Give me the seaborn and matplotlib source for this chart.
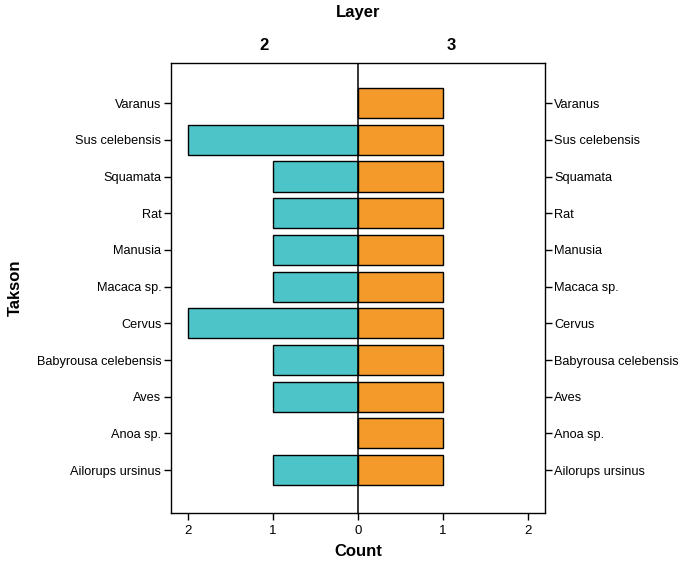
import pandas as pd
import matplotlib
matplotlib.use("Agg")
import matplotlib.pyplot as plt
import seaborn as sns

takson = ["Varanus", "Sus celebensis", "Squamata", "Rat", "Manusia", "Macaca sp.",
          "Cervus", "Babyrousa celebensis", "Aves", "Anoa sp.", "Ailorups ursinus"]
layer2_counts = [0, 2, 1, 1, 1, 1, 2, 1, 1, 0, 1]
layer3_counts = [1, 1, 1, 1, 1, 1, 1, 1, 1, 1, 1]
layers = ["2", "3"]
x_ticks = [-2, -1, 0, 1, 2]

colors = {"2": "#4DC4C8", "3": "#F39A2B"}

df = pd.concat([
    pd.DataFrame({"Takson": takson, "Count": [-c for c in layer2_counts], "Layer": "2"}),
    pd.DataFrame({"Takson": takson, "Count": layer3_counts, "Layer": "3"}),
])

sns.set_style("white")
plt.rcParams["font.family"] = ["Liberation Sans", "DejaVu Sans"]
for k in ["text.color", "axes.labelcolor", "xtick.color", "ytick.color"]:
    plt.rcParams[k] = "black"

fig = plt.figure(figsize=(6.82, 5.68), dpi=100)
ax = fig.add_axes([0.2507, 0.0968, 0.548, 0.792])

sns.barplot(data=df, x="Count", y="Takson", hue="Layer", order=takson,
            hue_order=layers, palette=colors, dodge=False, orient="h", saturation=1,
            edgecolor="black", linewidth=1, width=0.82, legend=False, ax=ax)

ax.axvline(0, color="black", lw=1.1, zorder=5)
ax.set_xlim(-2.2, 2.2)
ax.set_ylim(len(takson) - 1 + 1.17, -1.09)

ax.set_xticks(x_ticks)
ax.set_xticklabels([str(abs(t)) for t in x_ticks], fontsize=9.5)
ax.tick_params(axis="y", labelsize=9.2, left=True, right=True, labelright=True,
               length=5, width=1, direction="out", color="black", pad=2)
ax.tick_params(axis="x", bottom=True, length=5, width=1, direction="out", color="black")

for s in ax.spines.values():
    s.set_color("black")
    s.set_linewidth(1)

ax.set_xlabel("")
ax.set_ylabel("")
fig.text(358 / 682, 1 - 551 / 568, "Count", ha="center", va="center",
         fontsize=12, fontweight="bold")
fig.text(15 / 682, 1 - 288 / 568, "Takson", ha="center", va="center", rotation=90,
         fontsize=12, fontweight="bold")

for xpos, lab in zip([0.25, 0.75], layers):
    ax.text(xpos, 1.04, lab, transform=ax.transAxes, ha="center", va="center",
            fontsize=12, fontweight="bold")
ax.text(0.5, 1.113, "Layer", transform=ax.transAxes, ha="center", va="center",
        fontsize=12, fontweight="bold")

fig.savefig("out.png", dpi=100)
